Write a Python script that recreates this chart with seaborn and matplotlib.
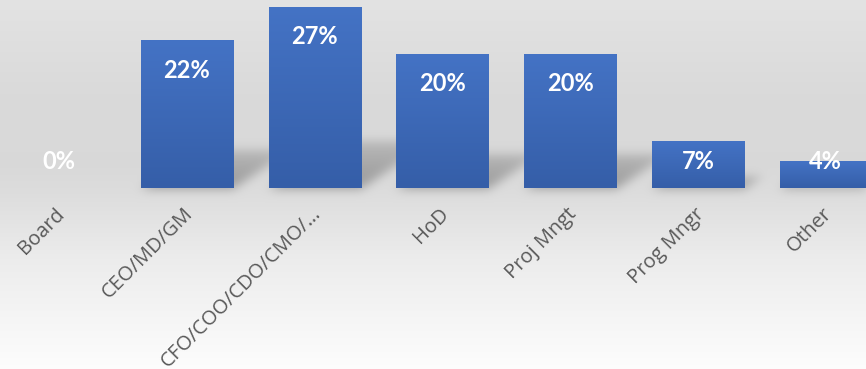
import numpy as np
import matplotlib
matplotlib.use("Agg")
import matplotlib.pyplot as plt
import seaborn as sns
import pandas as pd
from matplotlib.colors import LinearSegmentedColormap
from matplotlib.transforms import offset_copy

# Share of respondents by role
roles = ["Board", "CEO/MD/GM", "CFO/COO/CDO/CMO/…", "HoD", "Proj Mngt", "Prog Mngr", "Other"]
shares = [0, 22, 27, 20, 20, 7, 4]
value_labels = ["0%", "22%", "27%", "20%", "20%", "7%", "4%"]

W_PX, H_PX, DPI = 866, 369, 100

sns.set_theme(style="white")
plt.rcParams["font.family"] = ["Lato", "DejaVu Sans"]

fig = plt.figure(figsize=(W_PX / DPI, H_PX / DPI), dpi=DPI)

# background layer (gradient + soft bar shadows), drawn as one image
bg_ax = fig.add_axes([0, 0, 1, 1], zorder=0)
bg_ax.set_axis_off()

# plot area runs slightly past both figure edges
ax = fig.add_axes([-4.9 / W_PX, (H_PX - 188) / H_PX, 894.6 / W_PX, 188 / H_PX], zorder=1)
ax.patch.set_alpha(0)

df = pd.DataFrame({"role": roles, "share": shares})
sns.barplot(data=df, x="role", y="share", color="#4472c4", saturation=1,
            width=0.72, linewidth=0, ax=ax)
ax.set_xlim(-0.5, len(roles) - 0.5)
ax.set_ylim(0, 28.0)
ax.set_axis_off()

# vertical gradient fill on each bar
bar_cmap = LinearSegmentedColormap.from_list("bar", ["#355ea8", "#4473c5"])
grad = np.linspace(0, 1, 256).reshape(-1, 1)
for patch in list(ax.patches):
    h = patch.get_height()
    if h <= 0:
        patch.set_visible(False)
        continue
    x0 = patch.get_x()
    im = ax.imshow(grad, extent=[x0, x0 + patch.get_width(), 0, h], origin="lower",
                   aspect="auto", cmap=bar_cmap, zorder=patch.get_zorder() + 0.1)
    im.set_clip_path(patch)
ax.set_xlim(-0.5, len(roles) - 0.5)
ax.set_ylim(0, 28.0)

fig.canvas.draw()

# figure background gradient (light grey at top, white at bottom)
stops_f = [0.0, 0.25, 0.45, 0.52, 0.7, 0.88, 1.0]
stops_v = [0.89, 0.855, 0.85, 0.865, 0.925, 0.965, 0.99]
rows = np.arange(H_PX)
col = np.interp(rows / (H_PX - 1), stops_f, stops_v)
img = np.repeat(col[:, None], W_PX, axis=1)

# perspective shadows cast by the bars toward the upper right
yy, xx = np.mgrid[0:H_PX, 0:W_PX]
shadow = np.zeros((H_PX, W_PX))
skew = 1.5
for patch in ax.patches:
    h = patch.get_height()
    if h <= 0:
        continue
    (dx0, dyb) = ax.transData.transform((patch.get_x(), 0))
    (dx1, dyt) = ax.transData.transform((patch.get_x() + patch.get_width(), h))
    row_base = H_PX - dyb
    sh = 0.26 * (dyt - dyb)
    d = row_base - yy
    inside = (d >= 0) & (d <= sh) & (xx >= dx0 + skew * d) & (xx <= dx1 + skew * d)
    weight = np.where(inside, 1 - 0.5 * d / max(sh, 1), 0)
    shadow = np.maximum(shadow, weight)

sigma = 5.0
k = np.arange(-15, 16)
kern = np.exp(-k ** 2 / (2 * sigma ** 2))
kern /= kern.sum()
shadow = np.apply_along_axis(lambda r: np.convolve(r, kern, mode="same"), 1, shadow)
shadow = np.apply_along_axis(lambda c: np.convolve(c, kern, mode="same"), 0, shadow)
img = img * (1 - 0.3 * shadow)

bg_ax.imshow(np.dstack([img, img, img]), extent=[0, 1, 0, 1], origin="upper",
             aspect="auto", interpolation="nearest")
bg_ax.set_xlim(0, 1)
bg_ax.set_ylim(0, 1)

# value labels inside the bar ends, kept clear of the axis line
px_per_unit = ax.transData.transform((0, 1))[1] - ax.transData.transform((0, 0))[1]
label_tr = offset_copy(ax.transData, fig=fig, x=0, y=-30, units="dots")
for i, (v, lab) in enumerate(zip(shares, value_labels)):
    y = max(v, 57 / px_per_unit)
    ax.text(i, y, lab, transform=label_tr, ha="center", va="center",
            color="white", fontsize=17, fontweight="bold")

# rotated category labels
tick_tr = offset_copy(ax.transData, fig=fig, x=-4, y=-16, units="dots")
for i, role in enumerate(roles):
    ax.text(i, 0, role, transform=tick_tr, rotation=45, rotation_mode="anchor",
            ha="right", va="top", color="#595959", fontsize=14.5,
            family=["Open Sans", "DejaVu Sans"])

fig.savefig("out.png", dpi=DPI)
